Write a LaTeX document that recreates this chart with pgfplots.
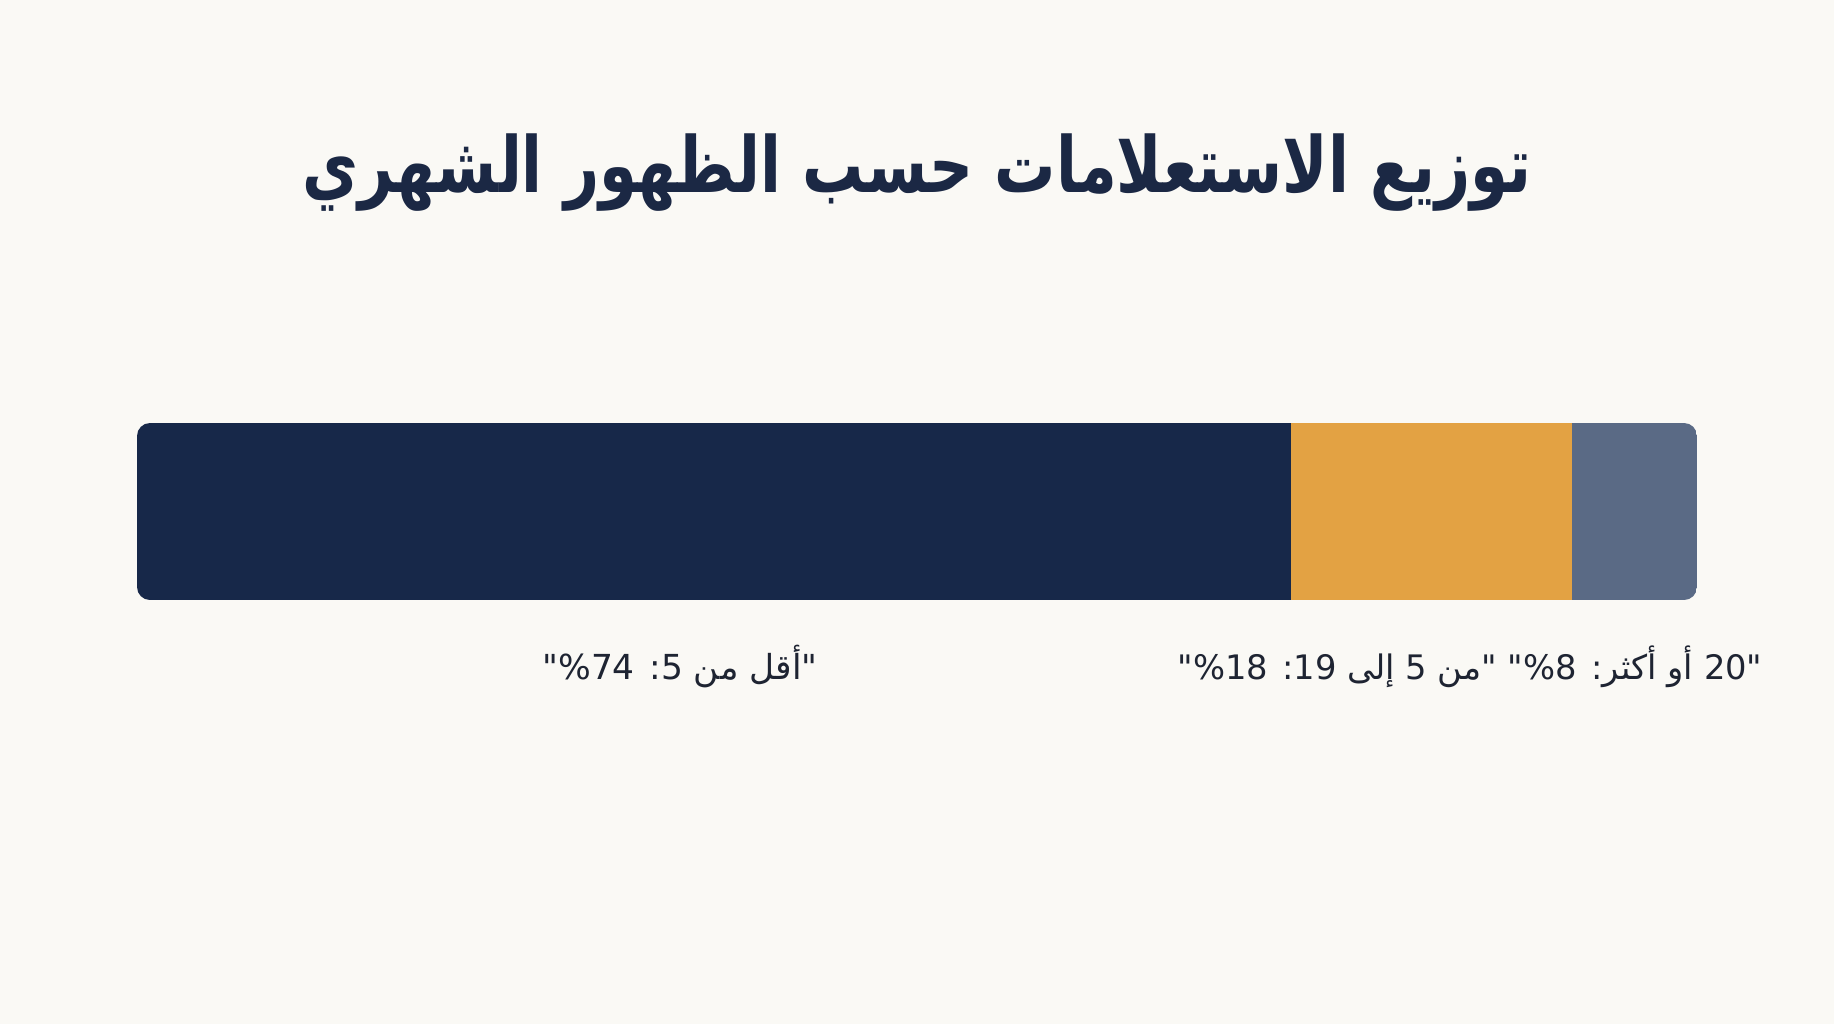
\documentclass[border=0pt]{standalone}
\usepackage{pgfplots}
\pgfplotsset{compat=1.18}
\usepackage{fontspec}
\setmainfont{DejaVu Sans}
\newfontfamily\arabicfont[Script=Arabic]{DejaVu Sans}
\TeXXeTstate=1
\definecolor{bgc}{RGB}{250,249,245}
\definecolor{navy}{RGB}{23,40,73}
\definecolor{amber}{RGB}{227,162,67}
\definecolor{slate}{RGB}{90,106,133}
\definecolor{titlec}{RGB}{27,40,68}
\definecolor{labc}{RGB}{30,36,50}
\newcommand{\brk}{\kern0pt}
\begin{document}
\begin{tikzpicture}[x=1cm,y=1cm]
\fill[bgc] (0,0) rectangle (18.34,10.24);
\node[font=\arabicfont\bfseries\fontsize{22}{26}\selectfont, text=titlec, xscale=0.79] at (9.17,8.51) {\beginR توزيع الاستعلامات حسب الظهور الشهري\endR};
\begin{scope}
\clip[rounded corners=1.3mm] (1.37,4.24) rectangle (16.97,6.01);
\begin{axis}[at={(1.37cm,4.24cm)}, anchor=south west, scale only axis,
  width=15.6cm, height=1.77cm, xbar stacked, xmin=0, xmax=100,
  ymin=0.5, ymax=1.5, bar width=1.77cm, axis lines=none, ticks=none,
  enlargelimits=false]
\addplot[fill=navy, draw=none] coordinates {(74,1)};
\addplot[fill=amber, draw=none] coordinates {(18,1)};
\addplot[fill=slate, draw=none] coordinates {(8,1)};
\end{axis}
\end{scope}
\node[font=\arabicfont\fontsize{9.8}{12}\selectfont, text=labc] at (6.80,3.57) {\beginR "\brk أقل من 5\brk: 74\brk\%\brk"\endR};
\node[font=\arabicfont\fontsize{9.6}{12}\selectfont, text=labc] at (14.70,3.57) {\beginR "\brk 20 أو أكثر\brk: 8\brk\%\brk" "\brk من 5 إلى 19\brk: 18\brk\%\brk"\endR};
\end{tikzpicture}
\end{document}
